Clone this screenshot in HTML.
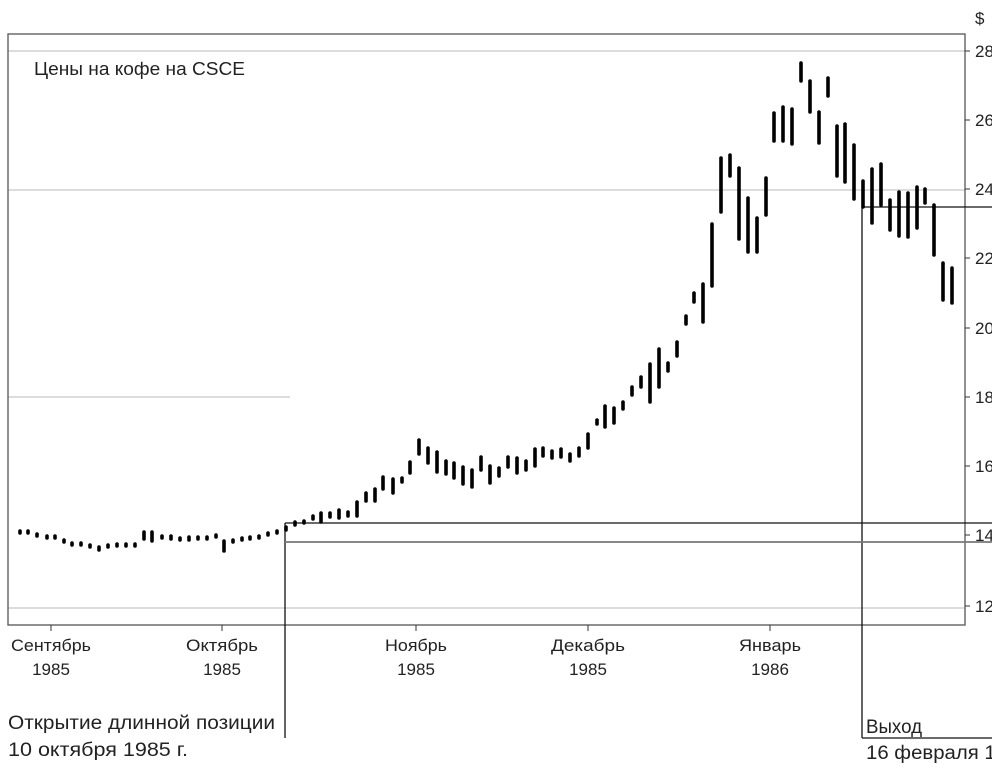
<!DOCTYPE html>
<html><head><meta charset="utf-8"><style>
html,body{margin:0;padding:0;background:#fff;}
svg{display:block;}
text{font-family:"Liberation Sans",sans-serif;fill:#222;}
</style></head><body>
<svg width="992" height="770" viewBox="0 0 992 770" xmlns="http://www.w3.org/2000/svg">
<g stroke="#c8c8c8" stroke-width="1.2">
<line x1="8" y1="51" x2="965" y2="51"/>
<line x1="8" y1="190" x2="965" y2="190"/>
<line x1="8" y1="397" x2="290" y2="397"/>
<line x1="8" y1="608" x2="965" y2="608"/>
</g>
<rect x="8" y="34" width="957" height="591" fill="none" stroke="#555" stroke-width="1.3"/>
<g stroke="#333" stroke-width="1">
<line x1="965" y1="51" x2="970" y2="51"/><line x1="965" y1="120" x2="970" y2="120"/>
<line x1="965" y1="189" x2="970" y2="189"/><line x1="965" y1="258" x2="970" y2="258"/>
<line x1="965" y1="328" x2="970" y2="328"/><line x1="965" y1="397" x2="970" y2="397"/>
<line x1="965" y1="466" x2="970" y2="466"/><line x1="965" y1="535" x2="970" y2="535"/>
<line x1="965" y1="606" x2="970" y2="606"/>
<line x1="51" y1="625" x2="51" y2="631"/><line x1="222" y1="625" x2="222" y2="631"/>
<line x1="416" y1="625" x2="416" y2="631"/><line x1="588" y1="625" x2="588" y2="631"/>
<line x1="770" y1="625" x2="770" y2="631"/>
</g>
<g font-size="17">
<text x="975" y="24">$</text>
<text x="975" y="57">28</text><text x="975" y="126">26</text><text x="975" y="195">24</text>
<text x="975" y="264">22</text><text x="975" y="334">20</text><text x="975" y="403">18</text>
<text x="975" y="472">16</text><text x="975" y="541">14</text><text x="975" y="612">12</text>
</g>
<g font-size="17" text-anchor="middle">
<text x="51" y="651" textLength="80" lengthAdjust="spacingAndGlyphs">Сентябрь</text><text x="51" y="675">1985</text>
<text x="222" y="651" textLength="72" lengthAdjust="spacingAndGlyphs">Октябрь</text><text x="222" y="675">1985</text>
<text x="416" y="651" textLength="62" lengthAdjust="spacingAndGlyphs">Ноябрь</text><text x="416" y="675">1985</text>
<text x="588" y="651" textLength="74" lengthAdjust="spacingAndGlyphs">Декабрь</text><text x="588" y="675">1985</text>
<text x="770" y="651" textLength="62" lengthAdjust="spacingAndGlyphs">Январь</text><text x="770" y="675">1986</text>
</g>
<text x="34" y="75" font-size="18" textLength="211" lengthAdjust="spacingAndGlyphs">Цены на кофе на CSCE</text>
<g stroke="#111" stroke-width="1.3" fill="none">
<line x1="285" y1="523" x2="992" y2="523"/>
<line x1="285" y1="523" x2="285" y2="738"/>
<line x1="862" y1="207" x2="992" y2="207"/>
<line x1="862" y1="207" x2="862" y2="738"/>
<line x1="862" y1="738" x2="992" y2="738"/>
</g>
<line x1="285" y1="542" x2="992" y2="542" stroke="#777" stroke-width="1.8"/>
<g font-size="19">
<text x="8" y="729" textLength="267" lengthAdjust="spacingAndGlyphs">Открытие длинной позиции</text>
<text x="8" y="756" textLength="180" lengthAdjust="spacingAndGlyphs">10 октября 1985 г.</text>
<text x="866" y="733" textLength="56" lengthAdjust="spacingAndGlyphs">Выход</text>
<text x="866" y="759" textLength="180" lengthAdjust="spacingAndGlyphs">16 февраля 1986 г.</text>
</g>
<g stroke="#000" stroke-width="3.6" stroke-linecap="round">
<line x1="20" y1="531" x2="20" y2="533"/><line x1="28" y1="531" x2="28" y2="533"/>
<line x1="37" y1="534" x2="37" y2="536"/><line x1="47" y1="536" x2="47" y2="538"/>
<line x1="55" y1="536" x2="55" y2="538"/><line x1="64" y1="540" x2="64" y2="542"/>
<line x1="72" y1="543" x2="72" y2="545"/><line x1="81" y1="543" x2="81" y2="545"/>
<line x1="90" y1="545" x2="90" y2="547"/><line x1="99" y1="547" x2="99" y2="550"/>
<line x1="108" y1="545" x2="108" y2="547"/><line x1="117" y1="544" x2="117" y2="546"/>
<line x1="126" y1="544" x2="126" y2="546"/><line x1="135" y1="544" x2="135" y2="546"/>
<line x1="144" y1="532" x2="144" y2="539"/><line x1="152" y1="532" x2="152" y2="541"/>
<line x1="162" y1="536" x2="162" y2="538"/><line x1="171" y1="536" x2="171" y2="539"/>
<line x1="180" y1="538" x2="180" y2="540"/><line x1="189" y1="537" x2="189" y2="540"/>
<line x1="198" y1="537" x2="198" y2="539"/><line x1="207" y1="537" x2="207" y2="539"/>
<line x1="216" y1="535" x2="216" y2="537"/><line x1="224" y1="541" x2="224" y2="551"/>
<line x1="233" y1="540" x2="233" y2="542"/><line x1="242" y1="538" x2="242" y2="540"/>
<line x1="250" y1="537" x2="250" y2="539"/><line x1="259" y1="536" x2="259" y2="538"/>
<line x1="268" y1="533" x2="268" y2="535"/><line x1="277" y1="531" x2="277" y2="533"/>
<line x1="286" y1="527" x2="286" y2="530"/>
<line x1="295" y1="522" x2="295" y2="525"/><line x1="304" y1="521" x2="304" y2="523"/>
<line x1="313" y1="516" x2="313" y2="519"/><line x1="321" y1="513" x2="321" y2="522"/>
<line x1="330" y1="513" x2="330" y2="517"/><line x1="339" y1="510" x2="339" y2="518"/>
<line x1="348" y1="512" x2="348" y2="516"/><line x1="357" y1="502" x2="357" y2="516"/>
<line x1="366" y1="493" x2="366" y2="501"/><line x1="375" y1="489" x2="375" y2="501"/>
<line x1="383" y1="477" x2="383" y2="489"/><line x1="393" y1="479" x2="393" y2="493"/>
<line x1="402" y1="478" x2="402" y2="482"/><line x1="410" y1="462" x2="410" y2="473"/>
<line x1="419" y1="440" x2="419" y2="454"/><line x1="428" y1="448" x2="428" y2="463"/>
<line x1="437" y1="452" x2="437" y2="472"/><line x1="446" y1="461" x2="446" y2="474"/>
<line x1="454" y1="463" x2="454" y2="478"/><line x1="463" y1="467" x2="463" y2="484"/>
<line x1="472" y1="470" x2="472" y2="487"/><line x1="481" y1="457" x2="481" y2="470"/>
<line x1="490" y1="466" x2="490" y2="483"/><line x1="499" y1="468" x2="499" y2="476"/>
<line x1="508" y1="457" x2="508" y2="467"/><line x1="517" y1="458" x2="517" y2="473"/>
<line x1="526" y1="461" x2="526" y2="470"/><line x1="535" y1="449" x2="535" y2="466"/>
<line x1="543" y1="448" x2="543" y2="456"/><line x1="552" y1="451" x2="552" y2="458"/>
<line x1="561" y1="449" x2="561" y2="457"/><line x1="570" y1="454" x2="570" y2="461"/>
<line x1="579" y1="448" x2="579" y2="456"/><line x1="588" y1="434" x2="588" y2="448"/>
<line x1="597" y1="420" x2="597" y2="424"/><line x1="605" y1="406" x2="605" y2="427"/>
<line x1="614" y1="408" x2="614" y2="423"/><line x1="623" y1="402" x2="623" y2="409"/>
<line x1="632" y1="387" x2="632" y2="395"/><line x1="641" y1="377" x2="641" y2="387"/>
<line x1="650" y1="364" x2="650" y2="402"/><line x1="659" y1="349" x2="659" y2="387"/>
<line x1="668" y1="363" x2="668" y2="371"/><line x1="677" y1="342" x2="677" y2="356"/>
<line x1="686" y1="316" x2="686" y2="324"/><line x1="694" y1="293" x2="694" y2="302"/>
<line x1="703" y1="284" x2="703" y2="322"/><line x1="712" y1="224" x2="712" y2="286"/>
<line x1="721" y1="158" x2="721" y2="212"/><line x1="730" y1="155" x2="730" y2="176"/>
<line x1="739" y1="168" x2="739" y2="239"/><line x1="748" y1="198" x2="748" y2="252"/>
<line x1="757" y1="218" x2="757" y2="252"/><line x1="766" y1="178" x2="766" y2="215"/>
<line x1="774" y1="113" x2="774" y2="141"/><line x1="783" y1="107" x2="783" y2="141"/>
<line x1="792" y1="109" x2="792" y2="144"/><line x1="801" y1="63" x2="801" y2="81"/>
<line x1="810" y1="81" x2="810" y2="112"/><line x1="819" y1="112" x2="819" y2="143"/>
<line x1="828" y1="78" x2="828" y2="96"/><line x1="837" y1="126" x2="837" y2="176"/>
<line x1="845" y1="124" x2="845" y2="182"/><line x1="854" y1="145" x2="854" y2="199"/>
<line x1="863" y1="181" x2="863" y2="207"/><line x1="872" y1="169" x2="872" y2="223"/>
<line x1="881" y1="164" x2="881" y2="205"/><line x1="890" y1="200" x2="890" y2="230"/>
<line x1="899" y1="192" x2="899" y2="236"/><line x1="908" y1="193" x2="908" y2="237"/>
<line x1="917" y1="187" x2="917" y2="228"/><line x1="925" y1="189" x2="925" y2="203"/>
<line x1="934" y1="205" x2="934" y2="255"/><line x1="943" y1="263" x2="943" y2="300"/>
<line x1="952" y1="268" x2="952" y2="303"/>
</g>
</svg>
</body></html>
